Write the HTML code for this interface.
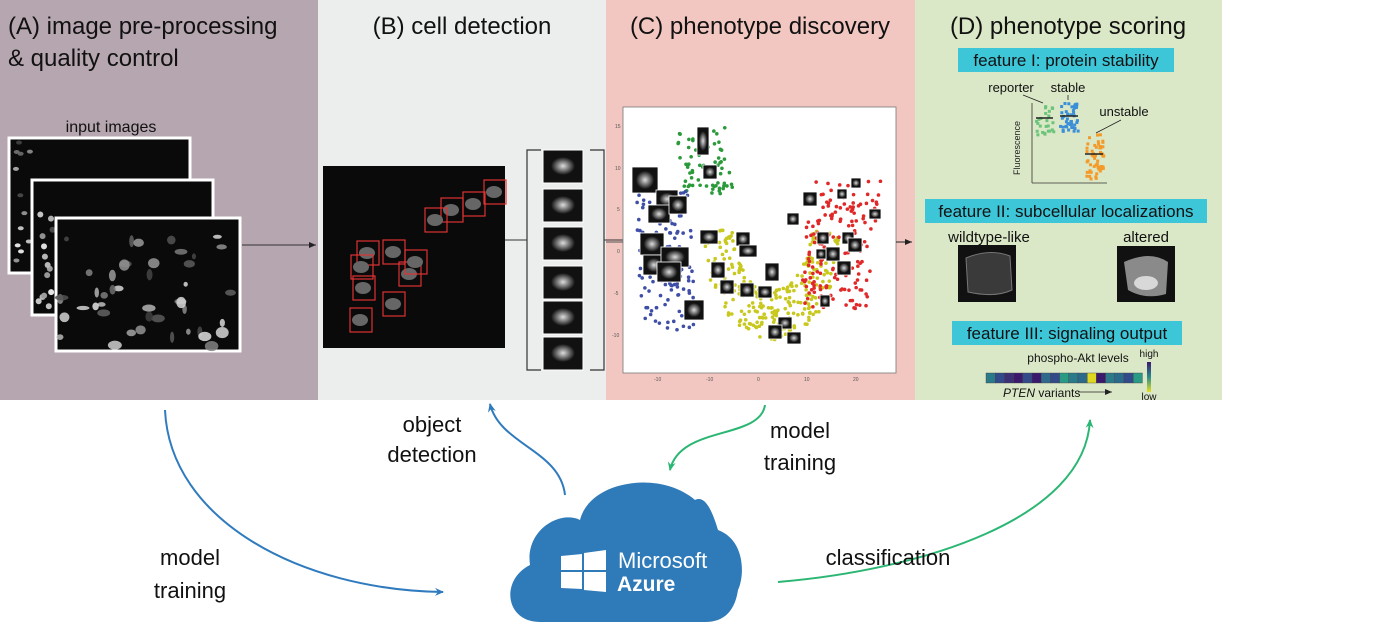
<!DOCTYPE html>
<html><head><meta charset="utf-8"><style>
html,body{margin:0;padding:0;background:#fff}
svg{display:block}
text{font-family:"Liberation Sans",sans-serif}
</style></head><body>
<svg id="s" width="1400" height="637" viewBox="0 0 1400 637" xmlns="http://www.w3.org/2000/svg">
<defs>
<marker id="ab" markerWidth="10" markerHeight="10" refX="8" refY="5" orient="auto" markerUnits="userSpaceOnUse"><path d="M0,1 L9,5 L0,9 L3,5z" fill="#2f7bbd"/></marker>
<marker id="ag" markerWidth="10" markerHeight="10" refX="8" refY="5" orient="auto" markerUnits="userSpaceOnUse"><path d="M0,1 L9,5 L0,9 L3,5z" fill="#2bb673"/></marker>
<marker id="ak" markerWidth="8" markerHeight="8" refX="7" refY="4" orient="auto" markerUnits="userSpaceOnUse"><path d="M0,1 L7,4 L0,7z" fill="#222"/></marker>
<radialGradient id="cell"><stop offset="0" stop-color="#ddd"/><stop offset="0.5" stop-color="#777"/><stop offset="1" stop-color="#111"/></radialGradient>
<linearGradient id="cb" x1="0" y1="0" x2="0" y2="1"><stop offset="0" stop-color="#3b1a6e"/><stop offset="0.5" stop-color="#2a8a8a"/><stop offset="1" stop-color="#e6e022"/></linearGradient>
</defs>
<rect x="0" y="0" width="318" height="400" fill="#b6a6af"/>
<rect x="318" y="0" width="288" height="400" fill="#eceeed"/>
<rect x="606" y="0" width="309" height="400" fill="#f3c7c1"/>
<rect x="915" y="0" width="307" height="400" fill="#dbe8c7"/>

<text x="8" y="34" font-size="24" fill="#111">(A) image pre-processing</text>
<text x="8" y="66" font-size="24" fill="#111">&amp; quality control</text>
<text x="462" y="34" font-size="24" fill="#111" text-anchor="middle">(B) cell detection</text>
<text x="760" y="34" font-size="24" fill="#111" text-anchor="middle">(C) phenotype discovery</text>
<text x="1068" y="34" font-size="24" fill="#111" text-anchor="middle">(D) phenotype scoring</text>

<text x="111" y="132" font-size="16" fill="#111" text-anchor="middle">input images</text>
<rect x="9" y="138" width="181" height="135" fill="#0a0a0a" stroke="#fff" stroke-width="3"/>
<g id="a1"></g>
<rect x="32" y="180" width="181" height="135" fill="#0a0a0a" stroke="#fff" stroke-width="3"/>
<g id="a2"></g>
<rect x="56" y="218" width="184" height="133" fill="#0a0a0a" stroke="#fff" stroke-width="3"/>
<g id="acells"></g>
<line x1="242" y1="245" x2="316" y2="245" stroke="#333" stroke-width="1" marker-end="url(#ak)"/>

<rect x="323" y="166" width="182" height="182" fill="#0a0a0a"/>
<g id="bcells"></g>
<line x1="505" y1="240" x2="527" y2="240" stroke="#333"/>
<path d="M541,150 H527 V370 H541 M590,150 H604 V370 H590" fill="none" stroke="#333" stroke-width="1.2"/>
<line x1="604" y1="240" x2="623" y2="240" stroke="#333"/>
<g id="bthumb"></g>

<rect x="623" y="107" width="273" height="266" fill="#fff" stroke="#777" stroke-width="0.8"/>
<line x1="606" y1="242" x2="623" y2="242" stroke="#555"/>
<line x1="896" y1="242" x2="912" y2="242" stroke="#222" marker-end="url(#ak)"/>
<g id="scat"></g>
<g font-size="5" fill="#555">
<text x="615" y="128">15</text><text x="615" y="170">10</text><text x="617" y="211">5</text><text x="617" y="253">0</text><text x="614" y="295">-5</text><text x="612" y="337">-10</text>
<text x="654" y="381">-10</text><text x="706" y="381">-10</text><text x="757" y="381">0</text><text x="804" y="381">10</text><text x="853" y="381">20</text>
</g>

<rect x="958" y="48" width="216" height="24" fill="#3cc6d8"/>
<text x="1066" y="66" font-size="17" fill="#111" text-anchor="middle">feature I: protein stability</text>
<text x="1011" y="92" font-size="13" fill="#111" text-anchor="middle">reporter</text>
<text x="1068" y="92" font-size="13" fill="#111" text-anchor="middle">stable</text>
<text x="1124" y="116" font-size="13" fill="#111" text-anchor="middle">unstable</text>
<line x1="1023" y1="95" x2="1043" y2="103" stroke="#222" stroke-width="0.8"/>
<line x1="1068" y1="95" x2="1068" y2="100" stroke="#222" stroke-width="0.8"/>
<line x1="1121" y1="120" x2="1096" y2="133" stroke="#222" stroke-width="0.8"/>
<line x1="1032" y1="103" x2="1032" y2="183" stroke="#333" stroke-width="0.8"/>
<line x1="1032" y1="183" x2="1107" y2="183" stroke="#333" stroke-width="0.8"/>
<text x="1020" y="148" font-size="9" fill="#222" text-anchor="middle" transform="rotate(-90 1020 148)">Fluorescence</text>
<g id="dots"></g>
<rect x="925" y="199" width="282" height="24" fill="#3cc6d8"/>
<text x="1066" y="217" font-size="17" fill="#111" text-anchor="middle">feature II: subcellular localizations</text>
<text x="989" y="242" font-size="15" fill="#111" text-anchor="middle">wildtype-like</text>
<text x="1146" y="242" font-size="15" fill="#111" text-anchor="middle">altered</text>
<rect x="958" y="245" width="58" height="57" fill="#111"/>
<path d="M966,258 Q990,248 1010,256 L1012,290 Q995,298 968,292 Z" fill="#3a3a3a" stroke="#777" stroke-width="1"/>
<rect x="1117" y="246" width="58" height="56" fill="#111"/>
<path d="M1124,262 Q1150,250 1168,262 L1166,294 Q1145,300 1128,290 Z" fill="#8a8a8a"/>
<ellipse cx="1146" cy="283" rx="12" ry="7" fill="#d8d8d8"/>
<rect x="952" y="321" width="230" height="24" fill="#3cc6d8"/>
<text x="1067" y="339" font-size="17" fill="#111" text-anchor="middle">feature III: signaling output</text>
<text x="1078" y="362" font-size="12" fill="#111" text-anchor="middle">phospho-Akt levels</text>
<text x="1149" y="357" font-size="10" fill="#111" text-anchor="middle">high</text>
<text x="1149" y="400" font-size="10" fill="#111" text-anchor="middle">low</text>
<rect x="1147" y="362" width="4" height="30" fill="url(#cb)"/>
<g id="heat"></g>
<text x="1003" y="397" font-size="12" fill="#111"><tspan font-style="italic">PTEN</tspan> variants</text>
<line x1="1078" y1="392" x2="1112" y2="392" stroke="#222" stroke-width="0.8" marker-end="url(#ak)"/>

<path d="M165,410 C170,520 300,590 443,592" fill="none" stroke="#2f7bbd" stroke-width="2" marker-end="url(#ab)"/>
<path d="M565,495 C560,450 500,445 490,404" fill="none" stroke="#2f7bbd" stroke-width="2" marker-end="url(#ab)"/>
<path d="M765,405 C760,440 680,425 670,470" fill="none" stroke="#2bb673" stroke-width="2" marker-end="url(#ag)"/>
<path d="M778,582 C920,570 1085,520 1090,420" fill="none" stroke="#2bb673" stroke-width="2" marker-end="url(#ag)"/>
<g font-size="22" fill="#111" text-anchor="middle">
<text x="432" y="432">object</text><text x="432" y="462">detection</text>
<text x="800" y="438">model</text><text x="800" y="470">training</text>
<text x="190" y="565">model</text><text x="190" y="598">training</text>
<text x="888" y="565">classification</text>
</g>

<path d="M540,622 C505,622 500,580 530,565 C525,530 560,510 580,520 C590,480 660,470 695,500 C705,495 712,510 718,530 C745,540 745,575 738,590 C735,610 725,622 705,622 Z" fill="#2f7ab8"/>
<path d="M561,556 L582,554 L582,570 L561,570Z M584,553 L606,550 L606,570 L584,570Z M561,572 L582,572 L582,589 L561,588Z M584,572 L606,572 L606,592 L584,590Z" fill="#fff"/>
<text x="618" y="568" font-size="22" fill="#fff">Microsoft</text>
<text x="617" y="591" font-size="21" font-weight="bold" fill="#fff">Azure</text>
</svg>
<script>
var NS="http://www.w3.org/2000/svg";
var seed=7;function r(){seed=(seed*16807)%2147483647;return seed/2147483647;}
function el(p,t,a){var e=document.createElementNS(NS,t);for(var k in a)e.setAttribute(k,a[k]);document.getElementById(p).appendChild(e);return e;}
function g(){var v=60+r()*170|0;return "rgb("+v+","+v+","+v+")";}
for(var i=0;i<45;i++){el("acells","ellipse",{cx:60+r()*176,cy:222+r()*125,rx:2+r()*5,ry:2+r()*4,fill:g(),opacity:0.85});}
for(var i=0;i<12;i++){el("a1","ellipse",{cx:14+r()*16,cy:142+r()*128,rx:3,ry:2,fill:g()});}
for(var i=0;i<14;i++){el("a2","ellipse",{cx:37+r()*16,cy:184+r()*128,rx:3,ry:3,fill:g()});}
var boxes=[[484,180],[463,192],[441,198],[425,208],[357,241],[383,240],[399,262],[351,255],[353,276],[383,292],[350,308],[405,250]];
boxes.forEach(function(b){el("bcells","ellipse",{cx:b[0]+10,cy:b[1]+12,rx:8,ry:6,fill:"#666"});el("bcells","rect",{x:b[0],y:b[1],width:22,height:24,fill:"none",stroke:"#d33",'stroke-width':1.2});});
var ty=[150,189,227,266,301,337];
ty.forEach(function(y){el("bthumb","rect",{x:543,y:y,width:40,height:33,fill:"#111",stroke:"#fff",'stroke-width':1});el("bthumb","ellipse",{cx:563,cy:y+16,rx:12,ry:9,fill:"url(#cell)"});});
function cl(col,n,f){for(var i=0;i<n;i++){var p=f();el("scat","circle",{cx:p[0],cy:p[1],r:1.8,fill:col});}}
cl("#2a9a3a",70,function(){var t=r();return [675+r()*50+t*10,125+t*65+r()*10];});
cl("#3f4fa8",130,function(){var t=r();return [633+r()*55+t*10,190+t*140];});
cl("#c8c81e",280,function(){var a=r()*Math.PI,rad=55+r()*45;return [772-Math.cos(a)*rad*0.7,230+Math.sin(a)*rad*1.1];});
cl("#e02828",160,function(){var t=r();return [812+r()*70-t*15,180+t*130];});
var th=[[632,167,26,26],[656,190,22,18],[648,205,22,18],[669,196,18,18],[697,127,12,28],[703,165,14,14],[640,233,24,22],[643,255,22,20],[661,247,28,20],[657,262,24,20],[684,300,20,20],[700,230,18,14],[736,232,14,14],[711,262,14,16],[720,280,14,14],[740,283,14,14],[765,263,14,18],[739,245,18,12],[787,213,12,12],[758,286,14,12],[778,317,14,12],[768,325,14,14],[787,332,14,12],[817,232,12,12],[826,247,14,14],[837,261,14,14],[842,232,12,12],[803,192,14,14],[837,189,10,10],[851,178,10,10],[848,238,14,14],[816,249,10,10],[820,295,10,12],[869,209,12,10]];
th.forEach(function(t){el("scat","rect",{x:t[0],y:t[1],width:t[2],height:t[3],fill:"#111",stroke:"#fff",'stroke-width':0.8});el("scat","ellipse",{cx:t[0]+t[2]/2,cy:t[1]+t[3]/2,rx:t[2]*0.35,ry:t[3]*0.35,fill:"url(#cell)"});});
function dc(col,cx,n,lo,hi){for(var i=0;i<n;i++){el("dots","rect",{x:cx-9+r()*18,y:lo+r()*(hi-lo),width:3,height:3,fill:col});}}
dc("#6cc47a",1044,25,103,134);dc("#3b8fd8",1068,45,102,130);dc("#f39a2a",1094,55,133,178);
el("dots","line",{x1:1036,y1:118,x2:1053,y2:118,stroke:"#222","stroke-width":1.5});
el("dots","line",{x1:1060,y1:116,x2:1078,y2:116,stroke:"#222","stroke-width":1.5});
el("dots","line",{x1:1085,y1:154,x2:1103,y2:154,stroke:"#222","stroke-width":1.5});
var hc=["#2a7a8a","#334a8a","#3b2f78","#3b1a6e","#334a8a","#3b1a6e","#2f6a8c","#334a8a","#2a9a84","#2a7a8a","#2a6a8a","#e0d820","#3b1a6e","#2a7a8a","#2a6a8a","#334a8a","#2a9a84"];
hc.forEach(function(c,i){el("heat","rect",{x:986+i*9.2,y:373,width:9.2,height:10,fill:c,stroke:"#444","stroke-width":0.4});});
</script>
</body></html>
